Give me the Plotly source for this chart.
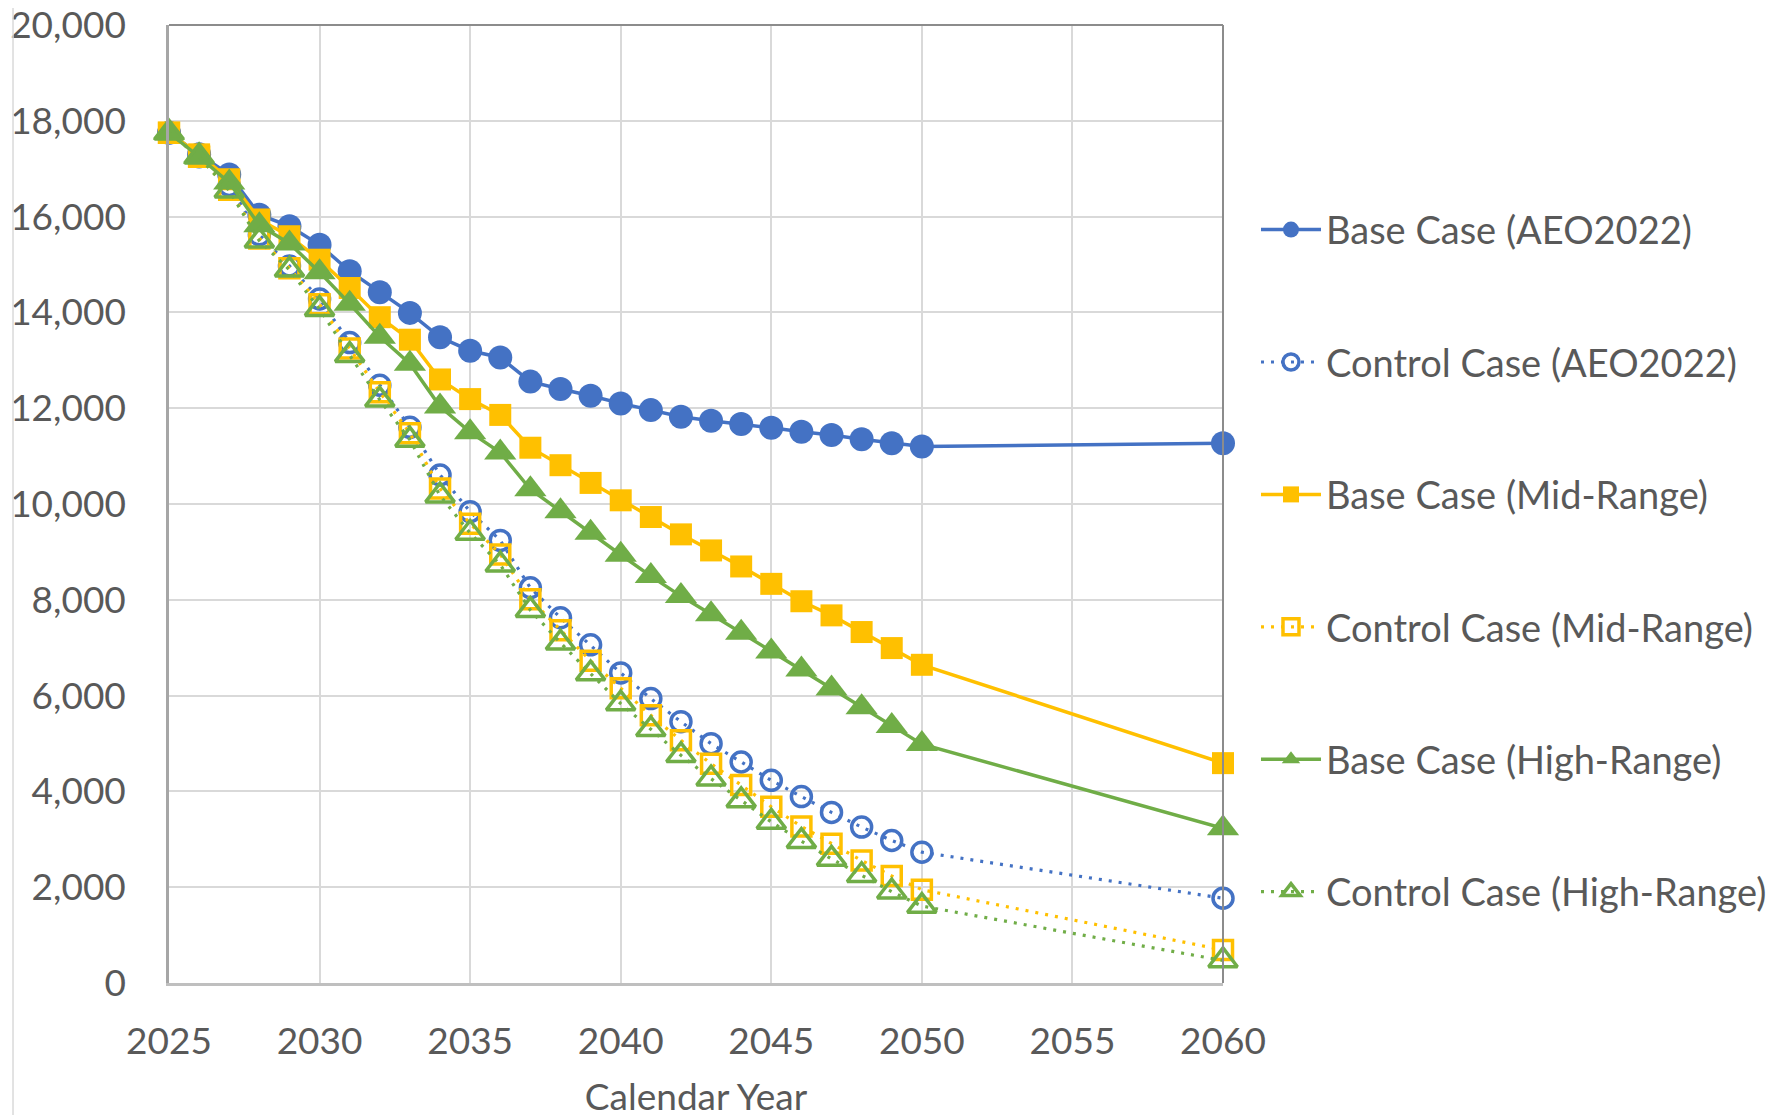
import plotly.graph_objects as go

years = list(range(2025, 2051)) + [2060]

base_aeo = [17750, 17300, 16880, 16040, 15800, 15410, 14860, 14420, 13990, 13480, 13200, 13060,
            12555, 12400, 12260, 12100, 11960, 11820, 11740, 11670, 11590, 11510, 11440, 11350,
            11270, 11200, 11270]
ctrl_aeo = [17750, 17250, 16650, 15620, 14970, 14280, 13370, 12480, 11600, 10606, 9840, 9240,
            8251, 7624, 7059, 6474, 5937, 5456, 4997, 4613, 4231, 3891, 3562, 3255, 2975, 2731, 1770]
base_mid = [17750, 17300, 16780, 15940, 15590, 15100, 14510, 13900, 13430, 12600, 12190, 11860,
            11175, 10810, 10440, 10077, 9728, 9366, 9031, 8696, 8333, 7970, 7675, 7327, 6992, 6643, 4590]
ctrl_mid = [17750, 17250, 16560, 15543, 14923, 14171, 13245, 12335, 11477, 10321, 9589, 8948,
            8014, 7366, 6725, 6153, 5589, 5066, 4578, 4132, 3677, 3269, 2906, 2556, 2235, 1948, 690]
base_high = [17750, 17250, 16710, 15820, 15440, 14840, 14180, 13490, 12930, 12035, 11500, 11075,
             10307, 9847, 9401, 8941, 8495, 8077, 7700, 7310, 6920, 6544, 6150, 5755, 5364, 4987, 3230]
ctrl_high = [17750, 17250, 16540, 15494, 14888, 14067, 13107, 12175, 11338, 10174, 9394, 8732,
             7784, 7101, 6460, 5833, 5296, 4753, 4265, 3812, 3362, 2961, 2591, 2249, 1906, 1606, 470]

series_names = ["Base Case (AEO2022)", "Control Case (AEO2022)",
                "Base Case (Mid-Range)", "Control Case (Mid-Range)",
                "Base Case (High-Range)", "Control Case (High-Range)"]

BLUE, GOLD, GREEN = "#4472C4", "#FFC000", "#70AD47"
FONT = "Lato"
TXT = "#595959"

styles = [
    (base_aeo, BLUE, "circle", None, 24),
    (ctrl_aeo, BLUE, "circle-open", "3px,7px", 20),
    (base_mid, GOLD, "square", None, 22),
    (ctrl_mid, GOLD, "square-open", "3px,7px", 19),
    (base_high, GREEN, "triangle-up", None, 28),
    (ctrl_high, GREEN, "triangle-up-open", "3px,7px", 25),
]

fig = go.Figure()
for i, (vals, col, sym, dash, size) in enumerate(styles):
    is_open = sym.endswith("open")
    fig.add_trace(go.Scatter(
        x=years, y=vals, name=series_names[i], mode="lines+markers",
        legendgroup="g%d" % i,
        cliponaxis=False,
        line=dict(color=col, width=3.5 if dash is None else 3.2,
                  dash=dash if dash else "solid"),
        marker=dict(symbol=sym, size=size, color=col,
                    line=dict(width=3.5 if is_open else 0, color=col)),
    ))

fig.update_layout(
    width=1789, height=1115,
    margin=dict(l=161, r=574, t=17, b=140, autoexpand=False),
    paper_bgcolor="white", plot_bgcolor="white",
    font=dict(family=FONT, size=37, color=TXT),
    showlegend=True,
    legend=dict(x=1.0313, y=0.819, xanchor="left", yanchor="top",
                font=dict(family=FONT, size=38, color=TXT),
                itemwidth=60,
                tracegroupgap=80, bgcolor="rgba(0,0,0,0)"),
    xaxis=dict(range=[2025, 2060], tick0=2025, dtick=5, automargin=False,
               showgrid=True, gridcolor="#D9D9D9", gridwidth=2,
               showline=True, linecolor="#BFBFBF", linewidth=3,
               zeroline=False, ticklabeloverflow="allow",
               ticks="outside", ticklen=24, tickcolor="rgba(0,0,0,0)",
               tickfont=dict(family=FONT, size=37, color=TXT),
               title=dict(text="Calendar Year", font=dict(family=FONT, size=37, color=TXT),
                          standoff=23)),
    yaxis=dict(range=[0, 20000], dtick=2000, tickformat=",", automargin=False,
               showgrid=True, gridcolor="#D9D9D9", gridwidth=2,
               showline=True, linecolor="#A6A6A6", linewidth=2.5,
               zeroline=False, ticklabeloverflow="allow",
               ticks="outside", ticklen=33, tickcolor="rgba(0,0,0,0)",
               tickfont=dict(family=FONT, size=37, color=TXT)),
    shapes=[
        dict(type="line", xref="paper", yref="paper", x0=0, x1=1, y0=1, y1=1,
             line=dict(color="#8C8C8C", width=2)),
        dict(type="line", xref="paper", yref="paper", x0=1, x1=1, y0=0, y1=1,
             line=dict(color="#8C8C8C", width=2)),
        dict(type="line", xref="paper", yref="paper", x0=-0.148, x1=-0.148, y0=-0.16, y1=1.03,
             line=dict(color="#D9D9D9", width=1.5)),
    ],
)

fig.write_html("out.html")
